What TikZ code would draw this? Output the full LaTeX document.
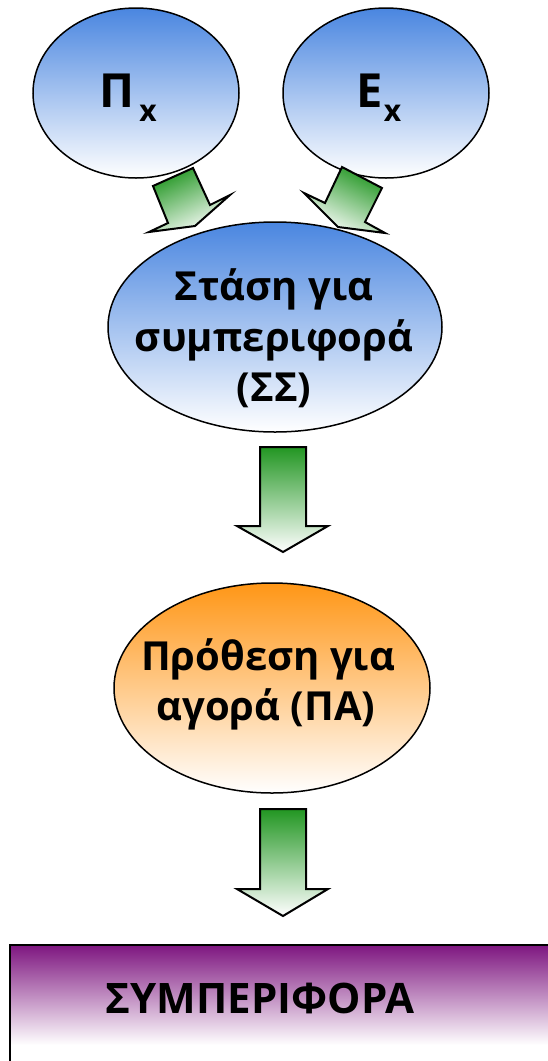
\documentclass[tikz,border=0pt]{standalone}
\usepackage{fontspec}
\setmainfont{Open Sans}
\usetikzlibrary{shapes.geometric}
\definecolor{skyblue}{RGB}{74,134,224}
\definecolor{leafgreen}{RGB}{34,150,34}
\definecolor{peach}{RGB}{255,150,22}
\definecolor{plum}{RGB}{126,22,128}
\tikzset{
  bubble/.style={ellipse, draw=black, line width=1.5pt, inner sep=0pt},
  bluebubble/.style={bubble, top color=skyblue, middle color=skyblue!38, bottom color=white},
  orangebubble/.style={bubble, top color=peach, middle color=peach!48, bottom color=white},
  blockarrow/.style={draw=black, line width=2pt, line join=miter},
  word/.style={font=\bfseries\fontsize{40}{48}\selectfont, inner sep=0pt, anchor=base},
  bigword/.style={font=\bfseries\fontsize{47}{56}\selectfont, inner sep=0pt, anchor=base},
}
\begin{document}
\begin{tikzpicture}[x=1pt, y=-1pt]
\useasboundingbox (0,0) rectangle (548,1061);
\clip (0,0) rectangle (548,1061);

% the two source bubbles
\node[bluebubble, minimum width=206pt, minimum height=170pt] (pi) at (136,93) {};
\node[bluebubble, minimum width=206pt, minimum height=170pt] (ex) at (386,93) {};
\node[bigword] (pilabel) at (128,107) {Π\kern5pt\raisebox{-14pt}{\fontsize{30}{30}\selectfont x}};
\node[bigword] (exlabel) at (379,107) {Ε\kern1pt\raisebox{-14pt}{\fontsize{30}{30}\selectfont x}};

% slanted arrows into the attitude bubble
\draw[blockarrow, top color=leafgreen, bottom color=white, shading angle=25]
  (153,186) -- (193,168) -- (210,205) -- (230,195) -- (195,226) -- (149,232) -- (168,223) -- cycle;
\draw[blockarrow, top color=leafgreen, bottom color=white, shading angle=-26]
  (342,167) -- (382,188) -- (365,222) -- (385,233) -- (338,227) -- (304,193) -- (325,203) -- cycle;

% attitude towards behaviour
\node[bluebubble, minimum width=334pt, minimum height=210pt] (ss) at (275,327) {};
\node[word] (ss1) at (274,300) {Στάση για};
\node[word] (ss2) at (274,351) {συμπεριφορά};
\node[word] (ss3) at (274,401) {(ΣΣ)};

% arrow to intention
\draw[blockarrow, top color=leafgreen, bottom color=white]
  (260,447) -- (306,447) -- (306,526) -- (328,526) -- (283,552) -- (237,526) -- (260,526) -- cycle;

% purchase intention
\node[orangebubble, minimum width=316pt, minimum height=210pt] (pa) at (272,688) {};
\node[word] (pa1) at (268,670) {Πρόθεση για};
\node[word] (pa2) at (266,720) {αγορά (ΠΑ)};

% arrow to behaviour
\draw[blockarrow, top color=leafgreen, bottom color=white]
  (260,809) -- (306,809) -- (306,889) -- (328,889) -- (283,916) -- (237,889) -- (260,889) -- cycle;

% behaviour box: white body, purple fading down from the top edge
\node[fill=white, minimum width=560pt, minimum height=130pt, anchor=north west, inner sep=0pt] (beh) at (10,945) {};
\shade[top color=plum, middle color=plum!30, bottom color=white]
  (beh.north west) rectangle ([yshift=-100pt]beh.north east);
\draw[line width=2pt] (beh.south west) rectangle (beh.north east);
\node[word, font=\bfseries\fontsize{42}{48}\selectfont] (behlabel) at (260,1013) {ΣΥΜΠΕΡΙΦΟΡΑ};
\end{tikzpicture}
\end{document}
